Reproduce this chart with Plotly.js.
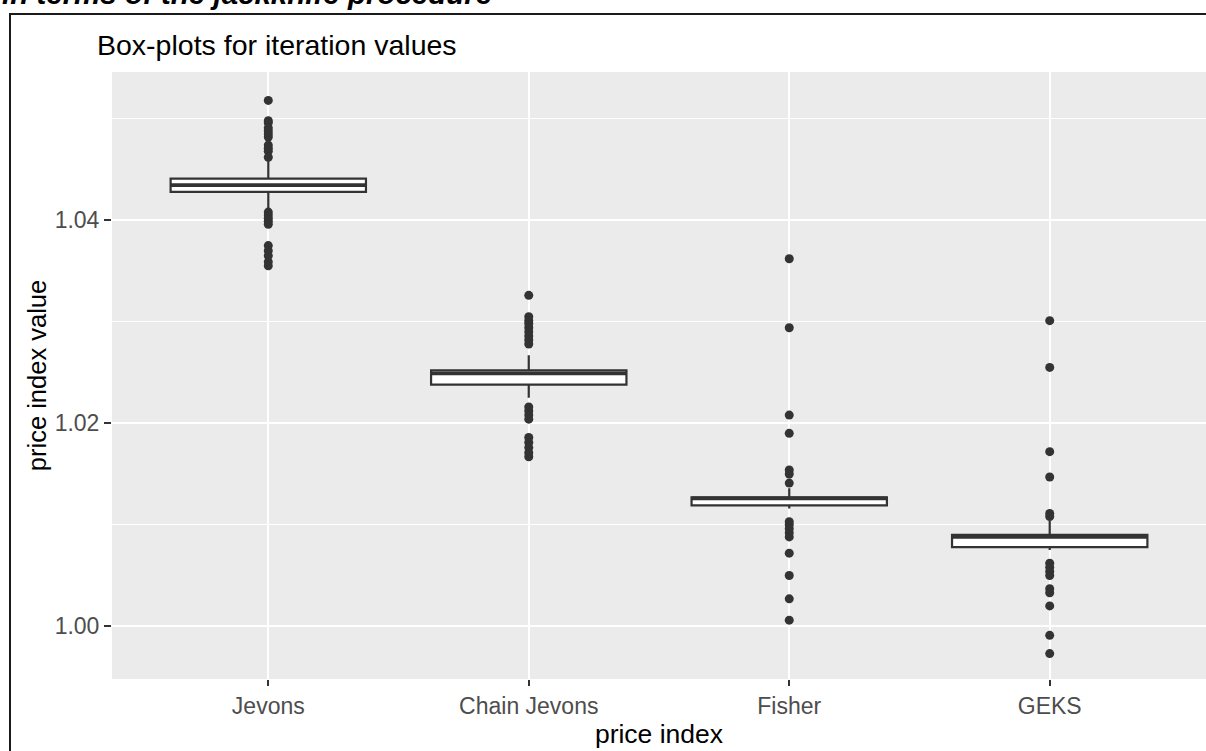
<!DOCTYPE html>
<html>
<head>
<meta charset="utf-8">
<script src="https://cdn.plot.ly/plotly-3.0.1.min.js"></script>
<style>
  html, body { margin: 0; padding: 0; background: #ffffff; }
  #chart { width: 1206px; height: 751px; }
</style>
</head>
<body>
<div id="chart"></div>
<script>
// Price index categories on the x axis
const categories = ['Jevons', 'Chain Jevons', 'Fisher', 'GEKS'];

// Box statistics for each index (jackknife iteration values)
const lowerWhisker = [1.0412, 1.0225, 1.0116, 1.0075];
const q1 = [1.0428, 1.0238, 1.0119, 1.0078];
const median = [1.04345, 1.0249, 1.0126, 1.0088];
const q3 = [1.0441, 1.0252, 1.0127, 1.0090];
const upperWhisker = [1.0459, 1.0267, 1.0136, 1.0104];

// Outlying iteration values per index
const jevonsOutliers = [1.0518, 1.0498, 1.0496, 1.0491, 1.0488, 1.0485, 1.0482, 1.0474, 1.0471, 1.0468, 1.0462,
  1.0408, 1.0405, 1.0402, 1.0399, 1.0396, 1.0375, 1.0370, 1.0365, 1.0359, 1.0355];
const chainJevonsOutliers = [1.0326, 1.0305, 1.0301, 1.0298, 1.0294, 1.0290, 1.0286, 1.0282, 1.0278,
  1.0216, 1.0212, 1.0208, 1.0204, 1.0186, 1.0181, 1.0176, 1.0171, 1.0167];
const fisherOutliers = [1.0362, 1.0294, 1.0208, 1.0190, 1.0154, 1.0150, 1.0141,
  1.0103, 1.0100, 1.0096, 1.0092, 1.0088, 1.0072, 1.0050, 1.0027, 1.0006];
const geksOutliers = [1.0301, 1.0255, 1.0172, 1.0147, 1.0111, 1.0108,
  1.0062, 1.0058, 1.0054, 1.0050, 1.0037, 1.0033, 1.0020, 0.9991, 0.9973];

const outlierGroups = [jevonsOutliers, chainJevonsOutliers, fisherOutliers, geksOutliers];

// Axis tick values and labels
const yTickVals = [1.00, 1.02, 1.04];
const yTickText = ['1.00', '1.02', '1.04'];

const ink = '#333333';
const fontFamily = '"Liberation Sans", Arial, Helvetica, sans-serif';

// Boxes built from the precomputed statistics
const boxTrace = {
  type: 'box',
  x: categories,
  q1: q1,
  median: median,
  q3: q3,
  lowerfence: lowerWhisker,
  upperfence: upperWhisker,
  boxpoints: false,
  width: 0.75,
  whiskerwidth: 0,
  fillcolor: '#ffffff',
  line: { color: ink, width: 2.2 },
  hoverinfo: 'skip',
  showlegend: false
};

// Heavier median stroke, drawn as a collapsed box at each median
const medianTrace = {
  type: 'box',
  x: categories,
  q1: median,
  median: median,
  q3: median,
  lowerfence: median,
  upperfence: median,
  boxpoints: false,
  width: 0.75,
  whiskerwidth: 0,
  fillcolor: 'rgba(0,0,0,0)',
  line: { color: ink, width: 3.8 },
  hoverinfo: 'skip',
  showlegend: false
};

// Outlier points
const outX = [];
const outY = [];
outlierGroups.forEach((vals, i) => {
  vals.forEach(v => { outX.push(categories[i]); outY.push(v); });
});
const outlierTrace = {
  type: 'scatter',
  mode: 'markers',
  x: outX,
  y: outY,
  marker: { color: ink, size: 9, line: { width: 0 } },
  hoverinfo: 'skip',
  showlegend: false
};

const layout = {
  width: 1206,
  height: 751,
  margin: { l: 112, r: 0, t: 72, b: 72, pad: 0 },
  paper_bgcolor: '#ffffff',
  plot_bgcolor: '#EBEBEB',
  font: { family: fontFamily, color: '#000000' },
  boxmode: 'overlay',
  showlegend: false,
  title: {
    text: 'Box-plots for iteration values',
    font: { family: fontFamily, size: 28.5, color: '#000000' },
    xref: 'container',
    x: 97 / 1206,
    xanchor: 'left',
    yref: 'container',
    y: 1 - 45 / 751,
    yanchor: 'middle'
  },
  xaxis: {
    type: 'category',
    categoryorder: 'array',
    categoryarray: categories,
    range: [-0.6, 3.6],
    showgrid: true,
    gridcolor: '#ffffff',
    gridwidth: 2,
    zeroline: false,
    showline: false,
    ticks: 'outside',
    ticklen: 6,
    tickwidth: 2,
    tickcolor: ink,
    tickfont: { family: fontFamily, size: 23, color: '#4D4D4D' },
    title: {
      text: 'price index',
      font: { family: fontFamily, size: 26.5, color: '#000000' },
      standoff: 4
    },
    fixedrange: true
  },
  yaxis: {
    range: [0.9948, 1.0546],
    tickmode: 'array',
    tickvals: yTickVals,
    ticktext: yTickText,
    showgrid: true,
    gridcolor: '#ffffff',
    gridwidth: 2,
    minor: { dtick: 0.01, tick0: 1.0, showgrid: true, gridcolor: '#ffffff', gridwidth: 1, ticks: '' },
    zeroline: false,
    showline: false,
    ticks: 'outside',
    ticklen: 7,
    tickwidth: 2,
    tickcolor: ink,
    tickfont: { family: fontFamily, size: 23, color: '#4D4D4D' },
    title: {
      text: 'price index value',
      font: { family: fontFamily, size: 25.5, color: '#000000' },
      standoff: 0
    },
    fixedrange: true
  },
  shapes: [
    {
      // outer frame around the figure
      type: 'rect',
      xref: 'paper', yref: 'paper',
      x0: (10 - 112) / 1094, x1: 1.05,
      y0: -0.3, y1: 1 + (72 - 14) / 607,
      line: { color: '#1a1a1a', width: 2 },
      fillcolor: 'rgba(0,0,0,0)',
      layer: 'above'
    }
  ],
  annotations: [
    {
      // caption line above the frame
      text: '<b><i>in terms of the jackknife procedure</i></b>',
      xref: 'paper', yref: 'paper',
      x: -112 / 1094, xanchor: 'left',
      y: 1 + (72 - 12) / 607, yanchor: 'bottom',
      showarrow: false,
      font: { family: fontFamily, size: 29.5, color: '#000000' }
    }
  ]
};

Plotly.newPlot('chart', [boxTrace, medianTrace, outlierTrace], layout, { displayModeBar: false, staticPlot: true });
</script>
</body>
</html>
